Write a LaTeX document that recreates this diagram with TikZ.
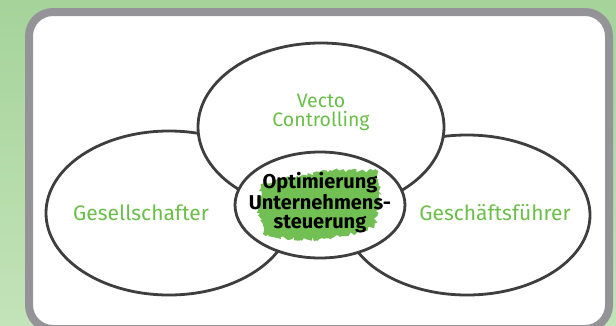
\documentclass[tikz,border=0pt]{standalone}
\usepackage{fontspec}
\setmainfont{Fira Sans}
\usetikzlibrary{shapes.geometric,decorations.pathmorphing}
\definecolor{bgtop}{HTML}{A5D39A}
\definecolor{bgbot}{HTML}{C3E3B9}
\definecolor{frame}{HTML}{939398}
\definecolor{ink}{HTML}{3E3E40}
\definecolor{leaf}{HTML}{6CBE4A}
\definecolor{brush}{HTML}{72BF54}
\tikzset{
  circ/.style={ellipse, draw=ink, fill=white, line width=2.8pt, inner sep=0pt},
  lbl/.style={text=leaf, font=\fontsize{21}{23}\selectfont, inner sep=0pt, align=center},
  toplbl/.style={text=leaf, font=\fontsize{19.5}{21}\selectfont, inner sep=0pt},
  core/.style={text=black, font=\fontsize{20}{19.5}\selectfont\bfseries, inner sep=0pt, align=center},
}
\begin{document}
\begin{tikzpicture}[x=1pt,y=-1pt]
\useasboundingbox (0,0) rectangle (616,325);
\clip (0,0) rectangle (616,325);
\shade[top color=bgtop, bottom color=bgbot] (0,0) rectangle (616,325);
\draw[frame, line width=8pt, fill=white, rounded corners=24pt] (29,12) rectangle (609,329);
% ellipses
\node[circ, minimum width=246pt, minimum height=164pt] (lft) at (169,213) {};
\node[circ, minimum width=246pt, minimum height=160pt] (rgt) at (467,215) {};
\node[circ, minimum width=246pt, minimum height=168pt] (top) at (321,127) {};
\node[circ, minimum width=170pt, minimum height=106pt] (mid) at (320,205) {};
% brush swash
\pgfmathsetseed{11}
\fill[brush, decorate, decoration={random steps, segment length=2.5pt, amplitude=2.4pt}]
  (261,184) -- (300,176) -- (330,170) -- (378,171) -- (381,200) -- (374,228)
  -- (340,237) -- (300,240) -- (263,234) -- (258,207) -- cycle;
% labels
\node[toplbl, anchor=base] (tv) at (321,107) {Vecto};
\node[toplbl, anchor=base] (tc) at (321,126) {Controlling};
\node[lbl] (ll) at (141,213) {Gesellschafter};
\node[lbl] (rl) at (495,213) {Geschäftsführer};
\node[core] (ml) at (320,203) {Optimierung\\Unternehmens-\\steuerung};
\end{tikzpicture}
\end{document}
